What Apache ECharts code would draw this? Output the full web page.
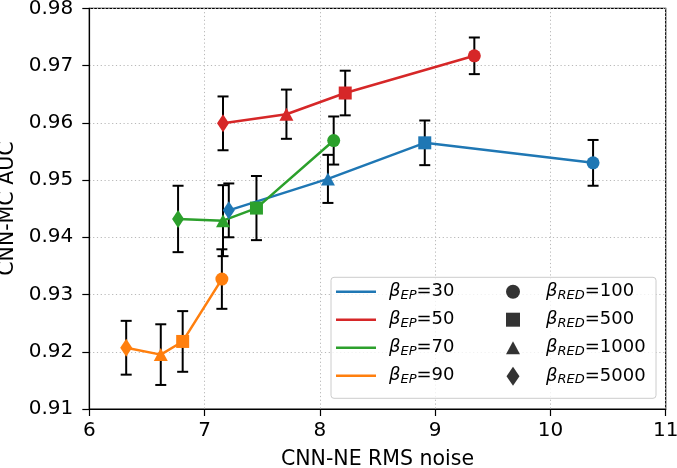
<!DOCTYPE html>
<html>
<head>
<meta charset="utf-8">
<script src="https://cdn.jsdelivr.net/npm/echarts@6/dist/echarts.min.js"></script>
<style>
  html, body { margin: 0; padding: 0; background: #fff; }
  #chart { width: 677px; height: 468px; }
</style>
</head>
<body>
<div id="chart"></div>
<script>
// beta_RED values, same order in every group: 100, 500, 1000, 5000
const betaRed = [100, 500, 1000, 5000]
const betaEp = [30, 50, 70, 90]

const noiseEp30 = [10.37, 8.91, 8.07, 7.21]
const aucEp30 = [0.9530, 0.9565, 0.9502, 0.9447]
const errEp30 = [0.0040, 0.0039, 0.0042, 0.0047]

const noiseEp50 = [9.34, 8.22, 7.71, 7.16]
const aucEp50 = [0.9717, 0.9652, 0.9615, 0.9599]
const errEp50 = [0.0032, 0.0039, 0.0043, 0.0047]

const noiseEp70 = [8.12, 7.45, 7.16, 6.77]
const aucEp70 = [0.9569, 0.9451, 0.9429, 0.9432]
const errEp70 = [0.0042, 0.0056, 0.0062, 0.0058]

const noiseEp90 = [7.15, 6.81, 6.62, 6.32]
const aucEp90 = [0.9327, 0.9218, 0.9195, 0.9207]
const errEp90 = [0.0052, 0.0053, 0.0053, 0.0047]

const xTicks = [6, 7, 8, 9, 10, 11]
const yTicks = [0.91, 0.92, 0.93, 0.94, 0.95, 0.96, 0.97, 0.98]

const groups = [
    { ep: 30, noise: noiseEp30, auc: aucEp30, err: errEp30, color: '#1f77b4' },
    { ep: 50, noise: noiseEp50, auc: aucEp50, err: errEp50, color: '#d62728' },
    { ep: 70, noise: noiseEp70, auc: aucEp70, err: errEp70, color: '#2ca02c' },
    { ep: 90, noise: noiseEp90, auc: aucEp90, err: errEp90, color: '#ff7f0e' }
]

// marker per beta_RED
const markerShape = ['circle', 'rect', 'triangle', 'diamond']
const markerSize = [13, 13, [14, 13], [12, 18]]
const legendIcon = [
    'circle',
    'path://M0,0 H14 V14 H0 Z',
    'path://M7,0 L14,13 L0,13 Z',
    'path://M6.5,0 L13,9.5 L6.5,19 L0,9.5 Z'
]

const FONT = 'DejaVu Sans'

const epName = ep => 'β_EP=' + ep
const redName = r => 'β_RED=' + r

const errorBar = function (params, api) {
    const x = api.value(0)
    const lo = api.coord([x, api.value(1)])
    const hi = api.coord([x, api.value(2)])
    const cap = 5.5
    const st = { stroke: '#000', lineWidth: 2 }
    return {
        type: 'group',
        children: [
            { type: 'line', shape: { x1: lo[0], y1: lo[1], x2: hi[0], y2: hi[1] }, style: st },
            { type: 'line', shape: { x1: lo[0] - cap, y1: lo[1], x2: lo[0] + cap, y2: lo[1] }, style: st },
            { type: 'line', shape: { x1: hi[0] - cap, y1: hi[1], x2: hi[0] + cap, y2: hi[1] }, style: st }
        ]
    }
}

const series = []
groups.forEach(g => {
    series.push({
        name: epName(g.ep) + ' err',
        type: 'custom',
        renderItem: errorBar,
        encode: { x: 0, y: [1, 2] },
        data: g.noise.map((x, i) => [x, g.auc[i] - g.err[i], g.auc[i] + g.err[i]]),
        z: 2,
        silent: true
    })
})
groups.forEach(g => {
    series.push({
        name: epName(g.ep),
        type: 'line',
        color: g.color,
        lineStyle: { width: 2.5, color: g.color },
        itemStyle: { color: g.color },
        showSymbol: true,
        showAllSymbol: true,
        z: 3,
        data: g.noise.map((x, i) => ({
            value: [x, g.auc[i]],
            symbol: markerShape[i],
            symbolSize: markerSize[i]
        }))
    })
})
betaRed.forEach((r, i) => {
    series.push({
        name: redName(r),
        type: 'scatter',
        color: '#000',
        itemStyle: { color: '#000' },
        symbol: markerShape[i],
        data: []
    })
})

const richText = {
    b: { fontFamily: FONT, fontStyle: 'italic', fontSize: 18, lineHeight: 20, color: '#000' },
    s: { fontFamily: FONT, fontStyle: 'italic', fontSize: 13, lineHeight: 12, verticalAlign: 'bottom', color: '#000' },
    n: { fontFamily: FONT, fontSize: 18, lineHeight: 20, color: '#000' }
}
const fmt = name => name.replace(/^β_(\w+)=(.*)$/, '{b|β}{s|$1}{n|=$2}')

const option = {
    animation: false,
    backgroundColor: '#fff',
    textStyle: { fontFamily: FONT },
    grid: {
        left: 89.3, right: 11.3, top: 8.3, bottom: 59,
        outerBoundsMode: 'none',
        containLabel: false,
        show: true, borderColor: '#000', borderWidth: 1.2
    },
    xAxis: {
        type: 'value',
        min: xTicks[0],
        max: xTicks[xTicks.length - 1],
        interval: 1,
        name: 'CNN-NE RMS noise',
        nameLocation: 'middle',
        nameGap: 40,
        nameTextStyle: { fontSize: 20.5, color: '#000', fontFamily: FONT },
        axisLine: { lineStyle: { color: '#000', width: 1.2 } },
        axisTick: { show: true, inside: false, length: 7, lineStyle: { color: '#000', width: 1.2 } },
        axisLabel: { fontSize: 20, color: '#000', margin: 12, fontFamily: FONT },
        splitLine: { show: true, lineStyle: { color: '#b8b8b8', width: 1, type: [1.2, 2.6] } }
    },
    yAxis: {
        type: 'value',
        min: yTicks[0],
        max: yTicks[yTicks.length - 1],
        interval: 0.01,
        name: 'CNN-MC AUC',
        nameLocation: 'middle',
        nameGap: 66,
        nameTextStyle: { fontSize: 20.5, color: '#000', fontFamily: FONT },
        axisLine: { show: true, lineStyle: { color: '#000', width: 1.2 } },
        axisTick: { show: true, inside: false, length: 7, lineStyle: { color: '#000', width: 1.2 } },
        axisLabel: { fontSize: 20, color: '#000', margin: 16, fontFamily: FONT, formatter: v => v.toFixed(2) },
        splitLine: { show: true, lineStyle: { color: '#b8b8b8', width: 1, type: [1.2, 2.6] } }
    },
    graphic: [{
        type: 'rect',
        z: 50,
        shape: { x: 331, y: 277.3, width: 325, height: 121, r: 3 },
        style: { fill: 'rgba(255,255,255,0.8)', stroke: '#cccccc', lineWidth: 1 }
    }],
    legend: [{
        orient: 'vertical',
        left: 336,
        top: 282.7,
        z: 60,
        icon: 'rect',
        itemWidth: 40,
        itemHeight: 2.5,
        itemGap: 9,
        padding: 0,
        selectedMode: false,
        data: betaEp.map(epName),
        formatter: fmt,
        textStyle: { rich: Object.assign({}, richText, { b: Object.assign({}, richText.b, { padding: [0, 0, 0, 8] }) }) }
    }, {
        orient: 'vertical',
        left: 506,
        top: 282.7,
        z: 60,
        itemWidth: 14,
        itemHeight: 19,
        itemGap: 9,
        padding: 0,
        symbolKeepAspect: true,
        selectedMode: false,
        data: betaRed.map((r, i) => ({ name: redName(r), icon: legendIcon[i], itemStyle: { color: '#000' } })),
        formatter: fmt,
        textStyle: { rich: Object.assign({}, richText, { b: Object.assign({}, richText.b, { padding: [0, 0, 0, 21] }) }) }
    }],
    series: series
}

const chart = echarts.init(document.getElementById('chart'), null, { renderer: 'canvas' })
chart.setOption(option)
</script>
</body>
</html>
